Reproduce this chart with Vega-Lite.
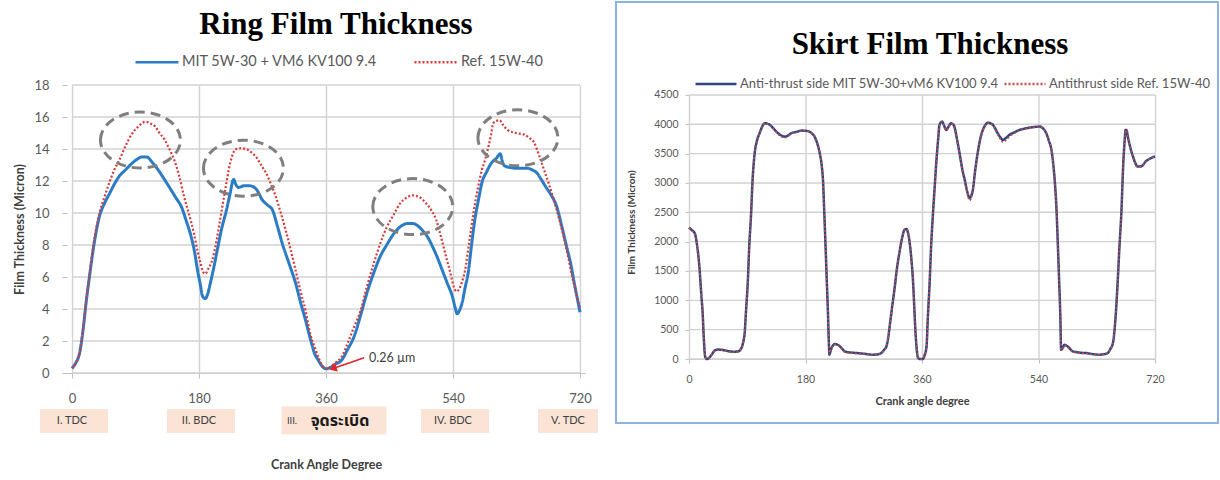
{
  "$schema": "https://vega.github.io/schema/vega-lite/v6.json",
  "background": "white",
  "padding": {"left": 13, "top": 0, "right": 0, "bottom": 0},
  "spacing": 16,
  "datasets": {
    "ringMit": [
      {"deg": 0, "um": 0.3}, {"deg": 5, "um": 0.6}, {"deg": 11, "um": 1.3}, {"deg": 16, "um": 2.8},
      {"deg": 20, "um": 4.4}, {"deg": 25, "um": 6.1}, {"deg": 30, "um": 7.7}, {"deg": 35, "um": 9.0},
      {"deg": 39, "um": 9.8}, {"deg": 46, "um": 10.6}, {"deg": 53, "um": 11.2}, {"deg": 60, "um": 11.8},
      {"deg": 67, "um": 12.3}, {"deg": 76, "um": 12.7}, {"deg": 85, "um": 13.1}, {"deg": 92, "um": 13.35},
      {"deg": 99, "um": 13.5}, {"deg": 106, "um": 13.5}, {"deg": 114, "um": 13.15}, {"deg": 122, "um": 12.7},
      {"deg": 131, "um": 12.1}, {"deg": 141, "um": 11.4}, {"deg": 148, "um": 10.9}, {"deg": 155, "um": 10.4},
      {"deg": 162, "um": 9.5}, {"deg": 169, "um": 8.5}, {"deg": 174, "um": 7.5}, {"deg": 178, "um": 6.4},
      {"deg": 182, "um": 5.5}, {"deg": 185, "um": 4.8}, {"deg": 189, "um": 4.65}, {"deg": 192, "um": 4.9},
      {"deg": 196, "um": 5.6}, {"deg": 201, "um": 6.6}, {"deg": 206, "um": 7.7}, {"deg": 212, "um": 9.0},
      {"deg": 219, "um": 10.2}, {"deg": 224, "um": 11.2}, {"deg": 229, "um": 12.1}, {"deg": 232, "um": 11.8},
      {"deg": 236, "um": 11.6}, {"deg": 244, "um": 11.7}, {"deg": 252, "um": 11.7}, {"deg": 261, "um": 11.5},
      {"deg": 270, "um": 10.8}, {"deg": 277, "um": 10.5}, {"deg": 284, "um": 10.2}, {"deg": 291, "um": 9.2},
      {"deg": 298, "um": 8.1}, {"deg": 308, "um": 6.8}, {"deg": 317, "um": 5.6}, {"deg": 324, "um": 4.4},
      {"deg": 331, "um": 3.3}, {"deg": 338, "um": 2.1}, {"deg": 344, "um": 1.2}, {"deg": 349, "um": 0.8},
      {"deg": 355, "um": 0.4}, {"deg": 360, "um": 0.26}, {"deg": 366, "um": 0.35}, {"deg": 373, "um": 0.55},
      {"deg": 382, "um": 0.8}, {"deg": 391, "um": 1.5}, {"deg": 400, "um": 2.3}, {"deg": 409, "um": 3.6},
      {"deg": 418, "um": 5.0}, {"deg": 428, "um": 6.3}, {"deg": 437, "um": 7.3}, {"deg": 446, "um": 8.0},
      {"deg": 456, "um": 8.7}, {"deg": 469, "um": 9.25}, {"deg": 476, "um": 9.35}, {"deg": 483, "um": 9.35},
      {"deg": 490, "um": 9.2}, {"deg": 497, "um": 8.9}, {"deg": 504, "um": 8.5}, {"deg": 511, "um": 7.9},
      {"deg": 518, "um": 7.2}, {"deg": 525, "um": 6.4}, {"deg": 532, "um": 5.6}, {"deg": 539, "um": 4.8},
      {"deg": 543, "um": 4.1}, {"deg": 546, "um": 3.7}, {"deg": 549, "um": 3.9}, {"deg": 553, "um": 4.4},
      {"deg": 557, "um": 5.3}, {"deg": 562, "um": 6.4}, {"deg": 566, "um": 7.9}, {"deg": 571, "um": 9.6},
      {"deg": 576, "um": 10.8}, {"deg": 581, "um": 11.9}, {"deg": 588, "um": 12.6}, {"deg": 594, "um": 13.1},
      {"deg": 601, "um": 13.4}, {"deg": 607, "um": 13.7}, {"deg": 610, "um": 13.2}, {"deg": 613, "um": 12.95},
      {"deg": 620, "um": 12.85}, {"deg": 630, "um": 12.8}, {"deg": 645, "um": 12.8}, {"deg": 652, "um": 12.7},
      {"deg": 659, "um": 12.5}, {"deg": 665, "um": 12.1}, {"deg": 672, "um": 11.6}, {"deg": 678, "um": 11.2},
      {"deg": 687, "um": 10.4}, {"deg": 694, "um": 9.2}, {"deg": 701, "um": 7.9}, {"deg": 707, "um": 6.8},
      {"deg": 712, "um": 5.6}, {"deg": 716, "um": 4.7}, {"deg": 720, "um": 3.8}
    ],
    "ringRef": [
      {"deg": 0, "um": 0.3}, {"deg": 5, "um": 0.6}, {"deg": 11, "um": 1.3}, {"deg": 16, "um": 2.9},
      {"deg": 20, "um": 4.5}, {"deg": 25, "um": 6.2}, {"deg": 30, "um": 7.9}, {"deg": 35, "um": 9.2},
      {"deg": 39, "um": 10.0}, {"deg": 46, "um": 11.0}, {"deg": 53, "um": 11.9}, {"deg": 60, "um": 12.7},
      {"deg": 67, "um": 13.3}, {"deg": 76, "um": 14.2}, {"deg": 85, "um": 14.95}, {"deg": 94, "um": 15.4},
      {"deg": 104, "um": 15.7}, {"deg": 111, "um": 15.6}, {"deg": 118, "um": 15.4}, {"deg": 124, "um": 15.0},
      {"deg": 131, "um": 14.6}, {"deg": 138, "um": 14.0}, {"deg": 145, "um": 13.3}, {"deg": 152, "um": 12.3},
      {"deg": 159, "um": 11.0}, {"deg": 166, "um": 9.9}, {"deg": 173, "um": 8.7}, {"deg": 178, "um": 7.6},
      {"deg": 182, "um": 6.9}, {"deg": 186, "um": 6.3}, {"deg": 189, "um": 6.2}, {"deg": 193, "um": 6.5},
      {"deg": 199, "um": 7.1}, {"deg": 205, "um": 8.3}, {"deg": 210, "um": 9.6}, {"deg": 217, "um": 11.4},
      {"deg": 224, "um": 13.1}, {"deg": 229, "um": 13.8}, {"deg": 233, "um": 14.0}, {"deg": 240, "um": 14.05},
      {"deg": 247, "um": 14.0}, {"deg": 254, "um": 13.8}, {"deg": 261, "um": 13.5}, {"deg": 268, "um": 13.0},
      {"deg": 275, "um": 12.5}, {"deg": 282, "um": 11.8}, {"deg": 289, "um": 11.0}, {"deg": 296, "um": 10.0},
      {"deg": 303, "um": 8.9}, {"deg": 310, "um": 7.7}, {"deg": 317, "um": 6.4}, {"deg": 324, "um": 5.1},
      {"deg": 331, "um": 3.9}, {"deg": 338, "um": 2.4}, {"deg": 344, "um": 1.6}, {"deg": 350, "um": 0.9},
      {"deg": 355, "um": 0.45}, {"deg": 360, "um": 0.28}, {"deg": 364, "um": 0.32}, {"deg": 368, "um": 0.45},
      {"deg": 375, "um": 0.7}, {"deg": 382, "um": 1.0}, {"deg": 391, "um": 1.9}, {"deg": 400, "um": 2.9},
      {"deg": 409, "um": 3.9}, {"deg": 418, "um": 5.4}, {"deg": 428, "um": 6.9}, {"deg": 437, "um": 8.1},
      {"deg": 446, "um": 9.1}, {"deg": 456, "um": 9.9}, {"deg": 465, "um": 10.6}, {"deg": 474, "um": 10.95},
      {"deg": 483, "um": 11.1}, {"deg": 492, "um": 11.0}, {"deg": 502, "um": 10.6}, {"deg": 509, "um": 10.2},
      {"deg": 516, "um": 9.6}, {"deg": 523, "um": 8.5}, {"deg": 530, "um": 7.3}, {"deg": 536, "um": 6.3},
      {"deg": 541, "um": 5.4}, {"deg": 545, "um": 5.1}, {"deg": 548, "um": 5.2}, {"deg": 552, "um": 5.6},
      {"deg": 557, "um": 6.4}, {"deg": 563, "um": 8.2}, {"deg": 569, "um": 10.0}, {"deg": 575, "um": 11.5},
      {"deg": 581, "um": 12.7}, {"deg": 586, "um": 13.4}, {"deg": 590, "um": 14.1}, {"deg": 594, "um": 14.9},
      {"deg": 597, "um": 15.6}, {"deg": 601, "um": 15.75}, {"deg": 606, "um": 15.8}, {"deg": 611, "um": 15.5},
      {"deg": 617, "um": 15.2}, {"deg": 629, "um": 15.0}, {"deg": 641, "um": 14.9}, {"deg": 648, "um": 14.7},
      {"deg": 655, "um": 14.4}, {"deg": 662, "um": 13.6}, {"deg": 669, "um": 12.7}, {"deg": 676, "um": 11.8},
      {"deg": 683, "um": 10.8}, {"deg": 690, "um": 9.7}, {"deg": 697, "um": 8.5}, {"deg": 703, "um": 7.3},
      {"deg": 709, "um": 6.0}, {"deg": 714, "um": 5.1}, {"deg": 720, "um": 4.1}
    ],
    "skirtMit": [
      {"deg": 0, "um": 2240}, {"deg": 4, "um": 2200}, {"deg": 9, "um": 2140}, {"deg": 12, "um": 1975},
      {"deg": 16, "um": 1580}, {"deg": 19, "um": 1100}, {"deg": 21, "um": 800}, {"deg": 23, "um": 330},
      {"deg": 25, "um": 40}, {"deg": 28, "um": 0}, {"deg": 31, "um": 20}, {"deg": 35, "um": 73},
      {"deg": 40, "um": 147}, {"deg": 45, "um": 160}, {"deg": 50, "um": 158}, {"deg": 56, "um": 145},
      {"deg": 63, "um": 130}, {"deg": 70, "um": 125}, {"deg": 76, "um": 130}, {"deg": 81, "um": 187},
      {"deg": 84, "um": 300}, {"deg": 86, "um": 443}, {"deg": 88, "um": 800}, {"deg": 91, "um": 1350},
      {"deg": 93, "um": 1900}, {"deg": 96, "um": 2490}, {"deg": 98, "um": 3000}, {"deg": 101.5, "um": 3508},
      {"deg": 105, "um": 3720}, {"deg": 109, "um": 3848}, {"deg": 113, "um": 3960}, {"deg": 117, "um": 4018},
      {"deg": 121, "um": 4010}, {"deg": 125, "um": 3990}, {"deg": 130, "um": 3935}, {"deg": 135, "um": 3875},
      {"deg": 141, "um": 3820}, {"deg": 148, "um": 3790}, {"deg": 153, "um": 3810}, {"deg": 158, "um": 3848},
      {"deg": 166, "um": 3870}, {"deg": 174, "um": 3893}, {"deg": 180, "um": 3890}, {"deg": 186, "um": 3875},
      {"deg": 190, "um": 3845}, {"deg": 194, "um": 3790}, {"deg": 198, "um": 3680}, {"deg": 202, "um": 3508},
      {"deg": 205, "um": 3300}, {"deg": 207, "um": 3053}, {"deg": 209, "um": 2500}, {"deg": 211, "um": 1918},
      {"deg": 213, "um": 1300}, {"deg": 214.7, "um": 783}, {"deg": 216, "um": 300}, {"deg": 217, "um": 73},
      {"deg": 219, "um": 150}, {"deg": 221.5, "um": 215}, {"deg": 225, "um": 255}, {"deg": 229, "um": 245},
      {"deg": 233, "um": 215}, {"deg": 237, "um": 170}, {"deg": 240.5, "um": 130}, {"deg": 250, "um": 110},
      {"deg": 258.5, "um": 102}, {"deg": 270, "um": 90}, {"deg": 284, "um": 73}, {"deg": 292, "um": 80},
      {"deg": 297, "um": 102}, {"deg": 301, "um": 150}, {"deg": 305, "um": 215}, {"deg": 308, "um": 380},
      {"deg": 310, "um": 555}, {"deg": 314, "um": 900}, {"deg": 318, "um": 1236}, {"deg": 321, "um": 1520},
      {"deg": 325, "um": 1805}, {"deg": 329, "um": 2050}, {"deg": 333, "um": 2202}, {"deg": 336, "um": 2215},
      {"deg": 339, "um": 2120}, {"deg": 341, "um": 1975}, {"deg": 344, "um": 1650}, {"deg": 346, "um": 1350},
      {"deg": 348, "um": 900}, {"deg": 350, "um": 443}, {"deg": 352, "um": 150}, {"deg": 354, "um": 17},
      {"deg": 357, "um": 0}, {"deg": 361, "um": 0}, {"deg": 364, "um": 60}, {"deg": 367, "um": 215},
      {"deg": 369, "um": 700}, {"deg": 372, "um": 1350}, {"deg": 374, "um": 1900}, {"deg": 377, "um": 2486},
      {"deg": 380, "um": 3000}, {"deg": 382, "um": 3337}, {"deg": 385, "um": 3750}, {"deg": 387, "um": 3990},
      {"deg": 391, "um": 4046}, {"deg": 394, "um": 3980}, {"deg": 397.5, "um": 3904}, {"deg": 401, "um": 3960},
      {"deg": 405, "um": 4018}, {"deg": 408, "um": 4000}, {"deg": 410, "um": 3961}, {"deg": 414, "um": 3750},
      {"deg": 418, "um": 3508}, {"deg": 422, "um": 3250}, {"deg": 426, "um": 3053}, {"deg": 430, "um": 2850},
      {"deg": 433.5, "um": 2741}, {"deg": 436, "um": 2780}, {"deg": 438.6, "um": 2883}, {"deg": 442, "um": 3200},
      {"deg": 446, "um": 3508}, {"deg": 450, "um": 3750}, {"deg": 454, "um": 3904}, {"deg": 458, "um": 3990},
      {"deg": 462, "um": 4029}, {"deg": 466, "um": 4015}, {"deg": 469.5, "um": 3990}, {"deg": 473, "um": 3930},
      {"deg": 477, "um": 3848}, {"deg": 481, "um": 3780}, {"deg": 485, "um": 3734}, {"deg": 490, "um": 3770},
      {"deg": 495, "um": 3819}, {"deg": 503, "um": 3865}, {"deg": 510.7, "um": 3904}, {"deg": 518, "um": 3925},
      {"deg": 526, "um": 3944}, {"deg": 534, "um": 3955}, {"deg": 541.6, "um": 3961}, {"deg": 547, "um": 3930},
      {"deg": 552, "um": 3848}, {"deg": 556, "um": 3720}, {"deg": 560, "um": 3564}, {"deg": 563, "um": 3300},
      {"deg": 565, "um": 3053}, {"deg": 568, "um": 2500}, {"deg": 570, "um": 1918}, {"deg": 572, "um": 1300},
      {"deg": 573.6, "um": 783}, {"deg": 575, "um": 158}, {"deg": 578, "um": 200}, {"deg": 580, "um": 243},
      {"deg": 583, "um": 230}, {"deg": 585, "um": 215}, {"deg": 589, "um": 170}, {"deg": 593, "um": 130},
      {"deg": 600, "um": 115}, {"deg": 607, "um": 105}, {"deg": 613.7, "um": 102}, {"deg": 620, "um": 90},
      {"deg": 628, "um": 78}, {"deg": 634, "um": 73}, {"deg": 640, "um": 80}, {"deg": 647, "um": 102},
      {"deg": 651, "um": 170}, {"deg": 655, "um": 272}, {"deg": 659, "um": 700}, {"deg": 662.5, "um": 1350},
      {"deg": 665, "um": 1900}, {"deg": 668, "um": 2486}, {"deg": 671, "um": 3337}, {"deg": 673, "um": 3700},
      {"deg": 674.5, "um": 3904}, {"deg": 676, "um": 3900}, {"deg": 678, "um": 3790}, {"deg": 682, "um": 3600},
      {"deg": 686, "um": 3450}, {"deg": 690, "um": 3330}, {"deg": 693, "um": 3280}, {"deg": 697, "um": 3280},
      {"deg": 701, "um": 3300}, {"deg": 705, "um": 3360}, {"deg": 709, "um": 3394}, {"deg": 713, "um": 3420},
      {"deg": 716.6, "um": 3439}, {"deg": 720, "um": 3450}
    ],
    "skirtRef": [
      {"deg": 0, "um": 2230}, {"deg": 4, "um": 2190}, {"deg": 9, "um": 2130}, {"deg": 12, "um": 1975},
      {"deg": 16, "um": 1580}, {"deg": 19, "um": 1100}, {"deg": 21, "um": 800}, {"deg": 23, "um": 330},
      {"deg": 25, "um": 40}, {"deg": 28, "um": 0}, {"deg": 31, "um": 20}, {"deg": 35, "um": 70},
      {"deg": 40, "um": 140}, {"deg": 45, "um": 150}, {"deg": 50, "um": 150}, {"deg": 56, "um": 138},
      {"deg": 63, "um": 122}, {"deg": 70, "um": 118}, {"deg": 76, "um": 125}, {"deg": 81, "um": 187},
      {"deg": 84, "um": 300}, {"deg": 86, "um": 443}, {"deg": 88, "um": 800}, {"deg": 91, "um": 1350},
      {"deg": 93, "um": 1900}, {"deg": 96, "um": 2490}, {"deg": 98, "um": 3000}, {"deg": 101.5, "um": 3508},
      {"deg": 105, "um": 3720}, {"deg": 109, "um": 3848}, {"deg": 113, "um": 3960}, {"deg": 117, "um": 4018},
      {"deg": 121, "um": 4010}, {"deg": 125, "um": 3990}, {"deg": 130, "um": 3930}, {"deg": 135, "um": 3865},
      {"deg": 141, "um": 3800}, {"deg": 148, "um": 3770}, {"deg": 153, "um": 3795}, {"deg": 158, "um": 3840},
      {"deg": 166, "um": 3865}, {"deg": 174, "um": 3890}, {"deg": 180, "um": 3890}, {"deg": 186, "um": 3875},
      {"deg": 190, "um": 3845}, {"deg": 194, "um": 3790}, {"deg": 198, "um": 3680}, {"deg": 202, "um": 3508},
      {"deg": 205, "um": 3300}, {"deg": 207, "um": 3053}, {"deg": 209, "um": 2500}, {"deg": 211, "um": 1918},
      {"deg": 213, "um": 1300}, {"deg": 214.7, "um": 783}, {"deg": 216, "um": 300}, {"deg": 217, "um": 73},
      {"deg": 219, "um": 150}, {"deg": 221.5, "um": 215}, {"deg": 225, "um": 250}, {"deg": 229, "um": 240},
      {"deg": 233, "um": 210}, {"deg": 237, "um": 160}, {"deg": 240.5, "um": 120}, {"deg": 250, "um": 100},
      {"deg": 258.5, "um": 95}, {"deg": 270, "um": 85}, {"deg": 284, "um": 70}, {"deg": 292, "um": 78},
      {"deg": 297, "um": 100}, {"deg": 301, "um": 150}, {"deg": 305, "um": 215}, {"deg": 308, "um": 380},
      {"deg": 310, "um": 555}, {"deg": 314, "um": 900}, {"deg": 318, "um": 1236}, {"deg": 321, "um": 1520},
      {"deg": 325, "um": 1805}, {"deg": 329, "um": 2050}, {"deg": 333, "um": 2202}, {"deg": 336, "um": 2215},
      {"deg": 339, "um": 2120}, {"deg": 341, "um": 1975}, {"deg": 344, "um": 1650}, {"deg": 346, "um": 1350},
      {"deg": 348, "um": 900}, {"deg": 350, "um": 443}, {"deg": 352, "um": 150}, {"deg": 354, "um": 17},
      {"deg": 357, "um": 0}, {"deg": 361, "um": 0}, {"deg": 364, "um": 60}, {"deg": 367, "um": 215},
      {"deg": 369, "um": 700}, {"deg": 372, "um": 1350}, {"deg": 374, "um": 1900}, {"deg": 377, "um": 2486},
      {"deg": 380, "um": 3000}, {"deg": 382, "um": 3337}, {"deg": 385, "um": 3750}, {"deg": 387, "um": 3990},
      {"deg": 391, "um": 4040}, {"deg": 394, "um": 3970}, {"deg": 397.5, "um": 3895}, {"deg": 401, "um": 3950},
      {"deg": 405, "um": 4010}, {"deg": 408, "um": 3995}, {"deg": 410, "um": 3955}, {"deg": 414, "um": 3740},
      {"deg": 418, "um": 3490}, {"deg": 422, "um": 3230}, {"deg": 426, "um": 3020}, {"deg": 430, "um": 2820},
      {"deg": 433.5, "um": 2700}, {"deg": 436, "um": 2740}, {"deg": 438.6, "um": 2870}, {"deg": 442, "um": 3190},
      {"deg": 446, "um": 3500}, {"deg": 450, "um": 3745}, {"deg": 454, "um": 3900}, {"deg": 458, "um": 3985},
      {"deg": 462, "um": 4025}, {"deg": 466, "um": 4010}, {"deg": 469.5, "um": 3980}, {"deg": 473, "um": 3915},
      {"deg": 477, "um": 3830}, {"deg": 481, "um": 3750}, {"deg": 485, "um": 3700}, {"deg": 490, "um": 3730},
      {"deg": 495, "um": 3790}, {"deg": 503, "um": 3850}, {"deg": 510.7, "um": 3895}, {"deg": 518, "um": 3920},
      {"deg": 526, "um": 3940}, {"deg": 534, "um": 3950}, {"deg": 541.6, "um": 3958}, {"deg": 547, "um": 3930},
      {"deg": 552, "um": 3848}, {"deg": 556, "um": 3720}, {"deg": 560, "um": 3564}, {"deg": 563, "um": 3300},
      {"deg": 565, "um": 3053}, {"deg": 568, "um": 2500}, {"deg": 570, "um": 1918}, {"deg": 572, "um": 1300},
      {"deg": 573.6, "um": 783}, {"deg": 575, "um": 158}, {"deg": 578, "um": 195}, {"deg": 580, "um": 235},
      {"deg": 583, "um": 222}, {"deg": 585, "um": 205}, {"deg": 589, "um": 160}, {"deg": 593, "um": 125},
      {"deg": 600, "um": 108}, {"deg": 607, "um": 98}, {"deg": 613.7, "um": 95}, {"deg": 620, "um": 85},
      {"deg": 628, "um": 72}, {"deg": 634, "um": 70}, {"deg": 640, "um": 78}, {"deg": 647, "um": 100},
      {"deg": 651, "um": 170}, {"deg": 655, "um": 272}, {"deg": 659, "um": 700}, {"deg": 662.5, "um": 1350},
      {"deg": 665, "um": 1900}, {"deg": 668, "um": 2486}, {"deg": 671, "um": 3337}, {"deg": 673, "um": 3700},
      {"deg": 674.5, "um": 3900}, {"deg": 676, "um": 3895}, {"deg": 678, "um": 3785}, {"deg": 682, "um": 3590},
      {"deg": 686, "um": 3440}, {"deg": 690, "um": 3320}, {"deg": 693, "um": 3270}, {"deg": 697, "um": 3275},
      {"deg": 701, "um": 3295}, {"deg": 705, "um": 3355}, {"deg": 709, "um": 3390}, {"deg": 713, "um": 3418},
      {"deg": 716.6, "um": 3436}, {"deg": 720, "um": 3448}
    ],
    "stages": [
      {"deg": 0, "label": "I. TDC"},
      {"deg": 180, "label": "II. BDC"},
      {"deg": 540, "label": "IV. BDC"},
      {"deg": 720, "label": "V. TDC"}
    ],
    "ignition": [{"deg": 360, "num": "III.", "name": "จุดระเบิด"}],
    "marked": [
      {"deg": 97, "um": 14.56},
      {"deg": 243, "um": 12.8},
      {"deg": 483, "um": 10.4},
      {"deg": 632, "um": 14.7}
    ],
    "minNote": [{"tailDeg": 414, "tailUm": 0.95, "headDeg": 370, "headUm": 0.28, "note": "0.26 µm"}],
    "ringLevels": [
      {"um": 0, "start": 0, "end": 720}, {"um": 2, "start": 0, "end": 720}, {"um": 4, "start": 0, "end": 720},
      {"um": 6, "start": 0, "end": 720}, {"um": 8, "start": 0, "end": 720}, {"um": 10, "start": 0, "end": 720},
      {"um": 12, "start": 0, "end": 720}, {"um": 14, "start": 0, "end": 720}, {"um": 16, "start": 0, "end": 720},
      {"um": 18, "start": 0, "end": 720}
    ],
    "skirtLevels": [
      {"um": 0, "start": 0, "end": 720}, {"um": 500, "start": 0, "end": 720}, {"um": 1000, "start": 0, "end": 720},
      {"um": 1500, "start": 0, "end": 720}, {"um": 2000, "start": 0, "end": 720}, {"um": 2500, "start": 0, "end": 720},
      {"um": 3000, "start": 0, "end": 720}, {"um": 3500, "start": 0, "end": 720}, {"um": 4000, "start": 0, "end": 720},
      {"um": 4500, "start": 0, "end": 720}
    ],
    "crankTicks": [{"deg": 0}, {"deg": 180}, {"deg": 360}, {"deg": 540}, {"deg": 720}]
  },
  "hconcat": [
    {
      "width": 518,
      "height": 288,
      "title": {
        "text": "Ring Film Thickness",
        "font": "Liberation Serif",
        "fontSize": 31,
        "fontWeight": "bold",
        "color": "#000000",
        "anchor": "middle",
        "offset": -2,
        "dx": 10
      },
      "layer": [
        {
          "data": {"name": "ringLevels"},
          "transform": [{"fold": ["start", "end"], "as": ["edge", "deg"]}],
          "mark": {"type": "line", "color": "#d2d2d2", "strokeWidth": 1.4, "interpolate": "linear"},
          "encoding": {
            "x": {"field": "deg", "type": "quantitative", "scale": {"domain": [0, 720], "nice": false},
              "axis": {"values": [0, 180, 360, 540, 720], "title": "Crank Angle Degree", "titleFontSize": 12.5, "titlePadding": 53, "labelFontSize": 13, "labelPadding": 14, "tickSize": 5, "grid": true, "gridColor": "#d2d2d2", "gridWidth": 1.4, "domain": true}},
            "y": {"field": "um", "type": "quantitative", "scale": {"domain": [0, 18], "nice": false},
              "axis": {"values": [0, 2, 4, 6, 8, 10, 12, 14, 16, 18], "title": "Film Thickness (Micron)", "titleFontSize": 12.5, "titlePadding": 7, "labelFontSize": 13, "labelPadding": 13, "tickSize": 5, "grid": false, "domain": false, "labelOverlap": false}},
            "detail": {"field": "um", "type": "quantitative"}
          }
        },
        {
          "data": {"name": "ringMit"},
          "mark": {"type": "line", "interpolate": "monotone", "strokeWidth": 3},
          "encoding": {
            "x": {"field": "deg", "type": "quantitative", "scale": {"domain": [0, 720], "nice": false},
              "axis": {"values": [0, 180, 360, 540, 720], "title": "Crank Angle Degree", "titleFontSize": 12.5, "titlePadding": 53, "labelFontSize": 13, "labelPadding": 14, "tickSize": 5, "grid": true, "gridColor": "#d2d2d2", "gridWidth": 1.4, "domain": true}},
            "y": {"field": "um", "type": "quantitative", "scale": {"domain": [0, 18], "nice": false},
              "axis": {"values": [0, 2, 4, 6, 8, 10, 12, 14, 16, 18], "title": "Film Thickness (Micron)", "titleFontSize": 12.5, "titlePadding": 7, "labelFontSize": 13, "labelPadding": 13, "tickSize": 5, "grid": false, "domain": false, "labelOverlap": false}},
            "color": {
              "datum": "MIT 5W-30 + VM6 KV100 9.4",
              "type": "nominal",
              "scale": {"domain": ["MIT 5W-30 + VM6 KV100 9.4", "Ref. 15W-40"], "range": ["#2b7bc5", "#d83a3a"]},
              "legend": {"title": null, "orient": "none", "direction": "horizontal", "legendX": 67, "legendY": -46, "labelFontSize": 14.5, "symbolSize": 1849, "symbolStrokeWidth": 2.5, "columnPadding": 31}
            },
            "strokeDash": {
              "datum": "MIT 5W-30 + VM6 KV100 9.4",
              "type": "nominal",
              "scale": {"domain": ["MIT 5W-30 + VM6 KV100 9.4", "Ref. 15W-40"], "range": [[1, 0], [2, 2]]},
              "legend": {"title": null, "orient": "none", "direction": "horizontal", "legendX": 67, "legendY": -46, "labelFontSize": 14.5, "symbolSize": 1849, "symbolStrokeWidth": 2.5, "columnPadding": 31}
            }
          }
        },
        {
          "data": {"name": "ringRef"},
          "mark": {"type": "line", "interpolate": "monotone", "strokeWidth": 2.2},
          "encoding": {
            "x": {"field": "deg", "type": "quantitative", "scale": {"domain": [0, 720], "nice": false},
              "axis": {"values": [0, 180, 360, 540, 720], "title": "Crank Angle Degree", "titleFontSize": 12.5, "titlePadding": 53, "labelFontSize": 13, "labelPadding": 14, "tickSize": 5, "grid": true, "gridColor": "#d2d2d2", "gridWidth": 1.4, "domain": true}},
            "y": {"field": "um", "type": "quantitative", "scale": {"domain": [0, 18], "nice": false},
              "axis": {"values": [0, 2, 4, 6, 8, 10, 12, 14, 16, 18], "title": "Film Thickness (Micron)", "titleFontSize": 12.5, "titlePadding": 7, "labelFontSize": 13, "labelPadding": 13, "tickSize": 5, "grid": false, "domain": false, "labelOverlap": false}},
            "color": {"datum": "Ref. 15W-40", "type": "nominal"},
            "strokeDash": {"datum": "Ref. 15W-40", "type": "nominal"}
          }
        },
        {
          "data": {"name": "stages"},
          "transform": [{"filter": "datum.deg < 700"}],
          "mark": {"type": "bar", "width": 68, "xOffset": 2, "color": "#fbe4d5"},
          "encoding": {
            "x": {"field": "deg", "type": "quantitative", "scale": {"domain": [0, 720], "nice": false},
              "axis": {"values": [0, 180, 360, 540, 720], "title": "Crank Angle Degree", "titleFontSize": 12.5, "titlePadding": 53, "labelFontSize": 13, "labelPadding": 14, "tickSize": 5, "grid": true, "gridColor": "#d2d2d2", "gridWidth": 1.4, "domain": true}},
            "y": {"datum": -2.25, "type": "quantitative", "scale": {"domain": [0, 18], "nice": false},
              "axis": {"values": [0, 2, 4, 6, 8, 10, 12, 14, 16, 18], "title": "Film Thickness (Micron)", "titleFontSize": 12.5, "titlePadding": 7, "labelFontSize": 13, "labelPadding": 13, "tickSize": 5, "grid": false, "domain": false, "labelOverlap": false}},
            "y2": {"datum": -3.75}
          }
        },
        {
          "data": {"name": "stages"},
          "transform": [{"filter": "datum.deg >= 700"}],
          "mark": {"type": "bar", "width": 60, "xOffset": -12, "color": "#fbe4d5"},
          "encoding": {
            "x": {"field": "deg", "type": "quantitative", "scale": {"domain": [0, 720], "nice": false},
              "axis": {"values": [0, 180, 360, 540, 720], "title": "Crank Angle Degree", "titleFontSize": 12.5, "titlePadding": 53, "labelFontSize": 13, "labelPadding": 14, "tickSize": 5, "grid": true, "gridColor": "#d2d2d2", "gridWidth": 1.4, "domain": true}},
            "y": {"datum": -2.25, "type": "quantitative", "scale": {"domain": [0, 18], "nice": false},
              "axis": {"values": [0, 2, 4, 6, 8, 10, 12, 14, 16, 18], "title": "Film Thickness (Micron)", "titleFontSize": 12.5, "titlePadding": 7, "labelFontSize": 13, "labelPadding": 13, "tickSize": 5, "grid": false, "domain": false, "labelOverlap": false}},
            "y2": {"datum": -3.75}
          }
        },
        {
          "data": {"name": "ignition"},
          "mark": {"type": "bar", "width": 105, "xOffset": 8, "color": "#fbe4d5"},
          "encoding": {
            "x": {"field": "deg", "type": "quantitative", "scale": {"domain": [0, 720], "nice": false},
              "axis": {"values": [0, 180, 360, 540, 720], "title": "Crank Angle Degree", "titleFontSize": 12.5, "titlePadding": 53, "labelFontSize": 13, "labelPadding": 14, "tickSize": 5, "grid": true, "gridColor": "#d2d2d2", "gridWidth": 1.4, "domain": true}},
            "y": {"datum": -2.1, "type": "quantitative", "scale": {"domain": [0, 18], "nice": false},
              "axis": {"values": [0, 2, 4, 6, 8, 10, 12, 14, 16, 18], "title": "Film Thickness (Micron)", "titleFontSize": 12.5, "titlePadding": 7, "labelFontSize": 13, "labelPadding": 13, "tickSize": 5, "grid": false, "domain": false, "labelOverlap": false}},
            "y2": {"datum": -3.85}
          }
        },
        {
          "data": {"name": "stages"},
          "transform": [{"filter": "datum.deg < 700"}],
          "mark": {"type": "text", "font": "Lato", "fontSize": 11, "color": "#404040", "baseline": "middle"},
          "encoding": {
            "x": {"field": "deg", "type": "quantitative", "scale": {"domain": [0, 720], "nice": false},
              "axis": {"values": [0, 180, 360, 540, 720], "title": "Crank Angle Degree", "titleFontSize": 12.5, "titlePadding": 53, "labelFontSize": 13, "labelPadding": 14, "tickSize": 5, "grid": true, "gridColor": "#d2d2d2", "gridWidth": 1.4, "domain": true}},
            "y": {"datum": -3.0, "type": "quantitative", "scale": {"domain": [0, 18], "nice": false},
              "axis": {"values": [0, 2, 4, 6, 8, 10, 12, 14, 16, 18], "title": "Film Thickness (Micron)", "titleFontSize": 12.5, "titlePadding": 7, "labelFontSize": 13, "labelPadding": 13, "tickSize": 5, "grid": false, "domain": false, "labelOverlap": false}},
            "text": {"field": "label"}
          }
        },
        {
          "data": {"name": "stages"},
          "transform": [{"filter": "datum.deg >= 700"}],
          "mark": {"type": "text", "font": "Lato", "fontSize": 11, "color": "#404040", "baseline": "middle", "dx": -12},
          "encoding": {
            "x": {"field": "deg", "type": "quantitative", "scale": {"domain": [0, 720], "nice": false},
              "axis": {"values": [0, 180, 360, 540, 720], "title": "Crank Angle Degree", "titleFontSize": 12.5, "titlePadding": 53, "labelFontSize": 13, "labelPadding": 14, "tickSize": 5, "grid": true, "gridColor": "#d2d2d2", "gridWidth": 1.4, "domain": true}},
            "y": {"datum": -3.0, "type": "quantitative", "scale": {"domain": [0, 18], "nice": false},
              "axis": {"values": [0, 2, 4, 6, 8, 10, 12, 14, 16, 18], "title": "Film Thickness (Micron)", "titleFontSize": 12.5, "titlePadding": 7, "labelFontSize": 13, "labelPadding": 13, "tickSize": 5, "grid": false, "domain": false, "labelOverlap": false}},
            "text": {"field": "label"}
          }
        },
        {
          "data": {"name": "ignition"},
          "mark": {"type": "text", "font": "Lato", "fontSize": 9.5, "color": "#404040", "baseline": "middle", "dx": -34},
          "encoding": {
            "x": {"field": "deg", "type": "quantitative", "scale": {"domain": [0, 720], "nice": false},
              "axis": {"values": [0, 180, 360, 540, 720], "title": "Crank Angle Degree", "titleFontSize": 12.5, "titlePadding": 53, "labelFontSize": 13, "labelPadding": 14, "tickSize": 5, "grid": true, "gridColor": "#d2d2d2", "gridWidth": 1.4, "domain": true}},
            "y": {"datum": -3.0, "type": "quantitative", "scale": {"domain": [0, 18], "nice": false},
              "axis": {"values": [0, 2, 4, 6, 8, 10, 12, 14, 16, 18], "title": "Film Thickness (Micron)", "titleFontSize": 12.5, "titlePadding": 7, "labelFontSize": 13, "labelPadding": 13, "tickSize": 5, "grid": false, "domain": false, "labelOverlap": false}},
            "text": {"field": "num"}
          }
        },
        {
          "data": {"name": "ignition"},
          "mark": {"type": "text", "font": "Noto Sans Thai, Noto Sans, sans-serif", "fontSize": 16, "fontWeight": "bold", "color": "#1a1a1a", "baseline": "middle", "dx": 14},
          "encoding": {
            "x": {"field": "deg", "type": "quantitative", "scale": {"domain": [0, 720], "nice": false},
              "axis": {"values": [0, 180, 360, 540, 720], "title": "Crank Angle Degree", "titleFontSize": 12.5, "titlePadding": 53, "labelFontSize": 13, "labelPadding": 14, "tickSize": 5, "grid": true, "gridColor": "#d2d2d2", "gridWidth": 1.4, "domain": true}},
            "y": {"datum": -3.0, "type": "quantitative", "scale": {"domain": [0, 18], "nice": false},
              "axis": {"values": [0, 2, 4, 6, 8, 10, 12, 14, 16, 18], "title": "Film Thickness (Micron)", "titleFontSize": 12.5, "titlePadding": 7, "labelFontSize": 13, "labelPadding": 13, "tickSize": 5, "grid": false, "domain": false, "labelOverlap": false}},
            "text": {"field": "name"}
          }
        },
        {
          "data": {"name": "marked"},
          "mark": {
            "type": "point",
            "shape": "M -1 0 A 1 0.7 0 1 1 1 0 A 1 0.7 0 1 1 -1 0 Z",
            "size": 6400,
            "filled": false,
            "opacity": 1,
            "stroke": "#7f7f7f",
            "strokeWidth": 3,
            "strokeDash": [10, 6]
          },
          "encoding": {
            "x": {"field": "deg", "type": "quantitative", "scale": {"domain": [0, 720], "nice": false},
              "axis": {"values": [0, 180, 360, 540, 720], "title": "Crank Angle Degree", "titleFontSize": 12.5, "titlePadding": 53, "labelFontSize": 13, "labelPadding": 14, "tickSize": 5, "grid": true, "gridColor": "#d2d2d2", "gridWidth": 1.4, "domain": true}},
            "y": {"field": "um", "type": "quantitative", "scale": {"domain": [0, 18], "nice": false},
              "axis": {"values": [0, 2, 4, 6, 8, 10, 12, 14, 16, 18], "title": "Film Thickness (Micron)", "titleFontSize": 12.5, "titlePadding": 7, "labelFontSize": 13, "labelPadding": 13, "tickSize": 5, "grid": false, "domain": false, "labelOverlap": false}}
          }
        },
        {
          "data": {"name": "minNote"},
          "mark": {"type": "rule", "color": "#e0262b", "strokeWidth": 1.5},
          "encoding": {
            "x": {"field": "tailDeg", "type": "quantitative", "scale": {"domain": [0, 720], "nice": false},
              "axis": {"values": [0, 180, 360, 540, 720], "title": "Crank Angle Degree", "titleFontSize": 12.5, "titlePadding": 53, "labelFontSize": 13, "labelPadding": 14, "tickSize": 5, "grid": true, "gridColor": "#d2d2d2", "gridWidth": 1.4, "domain": true}},
            "y": {"field": "tailUm", "type": "quantitative", "scale": {"domain": [0, 18], "nice": false},
              "axis": {"values": [0, 2, 4, 6, 8, 10, 12, 14, 16, 18], "title": "Film Thickness (Micron)", "titleFontSize": 12.5, "titlePadding": 7, "labelFontSize": 13, "labelPadding": 13, "tickSize": 5, "grid": false, "domain": false, "labelOverlap": false}},
            "x2": {"field": "headDeg"},
            "y2": {"field": "headUm"}
          }
        },
        {
          "data": {"name": "minNote"},
          "mark": {"type": "point", "shape": "triangle-left", "angle": 342, "size": 70, "filled": true, "opacity": 1, "color": "#e0262b"},
          "encoding": {
            "x": {"field": "headDeg", "type": "quantitative", "scale": {"domain": [0, 720], "nice": false},
              "axis": {"values": [0, 180, 360, 540, 720], "title": "Crank Angle Degree", "titleFontSize": 12.5, "titlePadding": 53, "labelFontSize": 13, "labelPadding": 14, "tickSize": 5, "grid": true, "gridColor": "#d2d2d2", "gridWidth": 1.4, "domain": true}},
            "y": {"field": "headUm", "type": "quantitative", "scale": {"domain": [0, 18], "nice": false},
              "axis": {"values": [0, 2, 4, 6, 8, 10, 12, 14, 16, 18], "title": "Film Thickness (Micron)", "titleFontSize": 12.5, "titlePadding": 7, "labelFontSize": 13, "labelPadding": 13, "tickSize": 5, "grid": false, "domain": false, "labelOverlap": false}}
          }
        },
        {
          "data": {"name": "minNote"},
          "mark": {"type": "text", "font": "Lato", "fontSize": 12.5, "color": "#404040", "align": "left", "baseline": "middle", "dx": 5},
          "encoding": {
            "x": {"field": "tailDeg", "type": "quantitative", "scale": {"domain": [0, 720], "nice": false},
              "axis": {"values": [0, 180, 360, 540, 720], "title": "Crank Angle Degree", "titleFontSize": 12.5, "titlePadding": 53, "labelFontSize": 13, "labelPadding": 14, "tickSize": 5, "grid": true, "gridColor": "#d2d2d2", "gridWidth": 1.4, "domain": true}},
            "y": {"field": "tailUm", "type": "quantitative", "scale": {"domain": [0, 18], "nice": false},
              "axis": {"values": [0, 2, 4, 6, 8, 10, 12, 14, 16, 18], "title": "Film Thickness (Micron)", "titleFontSize": 12.5, "titlePadding": 7, "labelFontSize": 13, "labelPadding": 13, "tickSize": 5, "grid": false, "domain": false, "labelOverlap": false}},
            "text": {"field": "note"}
          }
        }
      ]
    },
    {
      "width": 466,
      "height": 274,
      "title": {
        "text": "Skirt Film Thickness",
        "font": "Liberation Serif",
        "fontSize": 31,
        "fontWeight": "bold",
        "color": "#000000",
        "anchor": "middle",
        "offset": 0,
        "dy": 60,
        "dx": 8
      },
      "layer": [
        {
          "data": {"name": "skirtLevels"},
          "transform": [{"fold": ["start", "end"], "as": ["edge", "deg"]}],
          "mark": {"type": "line", "color": "#d2d2d2", "strokeWidth": 1.4, "interpolate": "linear"},
          "encoding": {
            "x": {"field": "deg", "type": "quantitative", "scale": {"domain": [0, 720], "nice": false},
              "axis": {"values": [0, 180, 360, 540, 720], "title": "Crank angle degree", "titleFontSize": 11, "titlePadding": 11, "labelFontSize": 10.5, "labelPadding": 11, "tickSize": 4, "grid": false, "domain": true}},
            "y": {"field": "um", "type": "quantitative", "scale": {"domain": [0, 4670], "nice": false},
              "axis": {"values": [0, 500, 1000, 1500, 2000, 2500, 3000, 3500, 4000, 4500], "format": "d", "title": "Film Thickness (Micron)", "titleFontSize": 10, "titlePadding": 17, "labelFontSize": 10.5, "labelPadding": 7, "tickSize": 4, "grid": false, "domain": false, "labelOverlap": false}},
            "detail": {"field": "um", "type": "quantitative"}
          }
        },
        {
          "data": {"name": "crankTicks"},
          "mark": {"type": "rule", "color": "#d2d2d2", "strokeWidth": 1.4, "xOffset": 0.5},
          "encoding": {
            "x": {"field": "deg", "type": "quantitative", "scale": {"domain": [0, 720], "nice": false},
              "axis": {"values": [0, 180, 360, 540, 720], "title": "Crank angle degree", "titleFontSize": 11, "titlePadding": 11, "labelFontSize": 10.5, "labelPadding": 11, "tickSize": 4, "grid": false, "domain": true}},
            "y": {"datum": 0, "type": "quantitative", "scale": {"domain": [0, 4670], "nice": false},
              "axis": {"values": [0, 500, 1000, 1500, 2000, 2500, 3000, 3500, 4000, 4500], "format": "d", "title": "Film Thickness (Micron)", "titleFontSize": 10, "titlePadding": 17, "labelFontSize": 10.5, "labelPadding": 7, "tickSize": 4, "grid": false, "domain": false, "labelOverlap": false}},
            "y2": {"datum": 4500}
          }
        },
        {
          "data": {"name": "skirtMit"},
          "mark": {"type": "line", "interpolate": "monotone", "strokeWidth": 2.5},
          "encoding": {
            "x": {"field": "deg", "type": "quantitative", "scale": {"domain": [0, 720], "nice": false},
              "axis": {"values": [0, 180, 360, 540, 720], "title": "Crank angle degree", "titleFontSize": 11, "titlePadding": 11, "labelFontSize": 10.5, "labelPadding": 11, "tickSize": 4, "grid": false, "domain": true}},
            "y": {"field": "um", "type": "quantitative", "scale": {"domain": [0, 4670], "nice": false},
              "axis": {"values": [0, 500, 1000, 1500, 2000, 2500, 3000, 3500, 4000, 4500], "format": "d", "title": "Film Thickness (Micron)", "titleFontSize": 10, "titlePadding": 17, "labelFontSize": 10.5, "labelPadding": 7, "tickSize": 4, "grid": false, "domain": false, "labelOverlap": false}},
            "color": {
              "datum": "Anti-thrust side MIT 5W-30+vM6 KV100 9.4",
              "type": "nominal",
              "scale": {"domain": ["Anti-thrust side MIT 5W-30+vM6 KV100 9.4", "Antithrust side Ref. 15W-40"], "range": ["#2e4580", "#c0504d"]},
              "legend": {"title": null, "orient": "none", "direction": "horizontal", "legendX": 5, "legendY": -23, "labelFontSize": 13, "symbolSize": 1681, "symbolStrokeWidth": 2.5, "columnPadding": 0}
            },
            "strokeDash": {
              "datum": "Anti-thrust side MIT 5W-30+vM6 KV100 9.4",
              "type": "nominal",
              "scale": {"domain": ["Anti-thrust side MIT 5W-30+vM6 KV100 9.4", "Antithrust side Ref. 15W-40"], "range": [[1, 0], [2, 2]]},
              "legend": {"title": null, "orient": "none", "direction": "horizontal", "legendX": 5, "legendY": -23, "labelFontSize": 13, "symbolSize": 1681, "symbolStrokeWidth": 2.5, "columnPadding": 0}
            }
          }
        },
        {
          "data": {"name": "skirtRef"},
          "mark": {"type": "line", "interpolate": "monotone", "strokeWidth": 1.6},
          "encoding": {
            "x": {"field": "deg", "type": "quantitative", "scale": {"domain": [0, 720], "nice": false},
              "axis": {"values": [0, 180, 360, 540, 720], "title": "Crank angle degree", "titleFontSize": 11, "titlePadding": 11, "labelFontSize": 10.5, "labelPadding": 11, "tickSize": 4, "grid": false, "domain": true}},
            "y": {"field": "um", "type": "quantitative", "scale": {"domain": [0, 4670], "nice": false},
              "axis": {"values": [0, 500, 1000, 1500, 2000, 2500, 3000, 3500, 4000, 4500], "format": "d", "title": "Film Thickness (Micron)", "titleFontSize": 10, "titlePadding": 17, "labelFontSize": 10.5, "labelPadding": 7, "tickSize": 4, "grid": false, "domain": false, "labelOverlap": false}},
            "color": {"datum": "Antithrust side Ref. 15W-40", "type": "nominal"},
            "strokeDash": {"datum": "Antithrust side Ref. 15W-40", "type": "nominal"}
          }
        },
        {
          "data": {"values": [{}]},
          "mark": {"type": "rect", "filled": false, "color": "#8db3e2", "strokeWidth": 2},
          "encoding": {
            "x": {"datum": -112.8, "type": "quantitative", "scale": {"domain": [0, 720], "nice": false},
              "axis": {"values": [0, 180, 360, 540, 720], "title": "Crank angle degree", "titleFontSize": 11, "titlePadding": 11, "labelFontSize": 10.5, "labelPadding": 11, "tickSize": 4, "grid": false, "domain": true}},
            "x2": {"datum": 817.3},
            "y": {"datum": 6085, "type": "quantitative", "scale": {"domain": [0, 4670], "nice": false},
              "axis": {"values": [0, 500, 1000, 1500, 2000, 2500, 3000, 3500, 4000, 4500], "format": "d", "title": "Film Thickness (Micron)", "titleFontSize": 10, "titlePadding": 17, "labelFontSize": 10.5, "labelPadding": 7, "tickSize": 4, "grid": false, "domain": false, "labelOverlap": false}},
            "y2": {"datum": -1091}
          }
        }
      ]
    }
  ],
  "resolve": {
    "scale": {"x": "independent", "y": "independent", "color": "independent", "strokeDash": "independent"},
    "legend": {"color": "independent", "strokeDash": "independent"}
  },
  "config": {
    "view": {"stroke": null},
    "font": "Lato",
    "axis": {
      "labelFont": "Lato",
      "titleFont": "Lato",
      "labelColor": "#595959",
      "titleColor": "#404040",
      "titleFontWeight": "bold",
      "gridColor": "#d2d2d2",
      "gridWidth": 1.4,
      "domainColor": "#bfbfbf",
      "tickColor": "#bfbfbf",
      "labelFlush": false,
      "labelOverlap": false
    },
    "legend": {
      "symbolType": "stroke",
      "labelFont": "Lato",
      "labelColor": "#595959",
      "padding": 0,
      "labelOffset": 2,
      "labelLimit": 0
    }
  }
}
